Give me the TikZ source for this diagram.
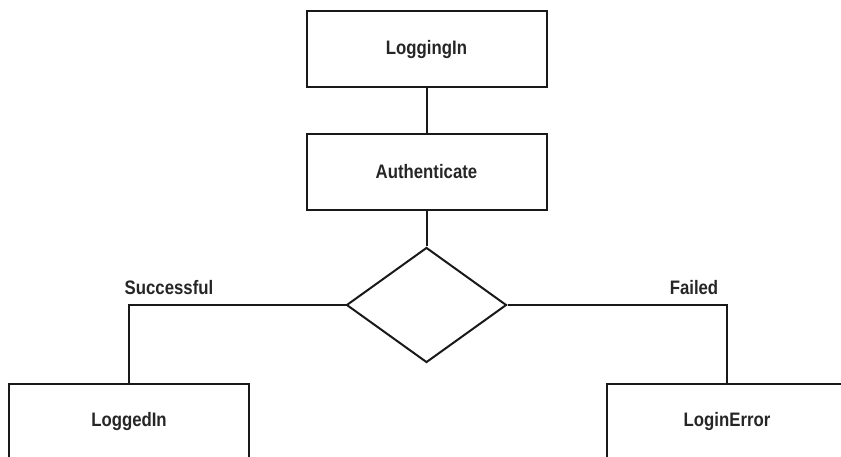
\documentclass[tikz,border=0pt]{standalone}
\usepackage{fontspec}
\setmainfont[FakeStretch=0.86]{Liberation Sans}
\usetikzlibrary{shapes.geometric}
\begin{document}
\begin{tikzpicture}[x=1pt,y=-1pt,
  every node/.style={font=\fontsize{19.5}{23}\selectfont\bfseries, text=black!85},
  statebox/.style={draw=black!90, line width=2pt, minimum width=240pt, minimum height=76pt, inner sep=0pt},
  decision/.style={draw=black!90, line width=2pt, diamond, minimum width=160pt, minimum height=115pt, inner sep=0pt},
  link/.style={draw=black!90, line width=2pt},
  lbl/.style={inner sep=0pt}]
\useasboundingbox (0,0) rectangle (841,457);
\clip (0,0) rectangle (841,457);
\node[statebox] (login) at (426.5,49.5) {LoggingIn};
\node[statebox] (auth) at (426.5,172) {Authenticate};
\node[decision] (dec) at (426.5,305) {};
\node[statebox] (ok) at (129,421.5) {LoggedIn};
\node[statebox] (err) at (727,421.5) {LoginError};
\node[lbl] (succ) at (169,288) {Successful};
\node[lbl] (fail) at (694,288) {Failed};
\draw[link] (login) -- (auth);
\draw[link] (auth) -- (dec.north);
\draw[link] (dec.west) -| (ok.north);
\draw[link] (dec.east) -| (err.north);
\end{tikzpicture}
\end{document}
